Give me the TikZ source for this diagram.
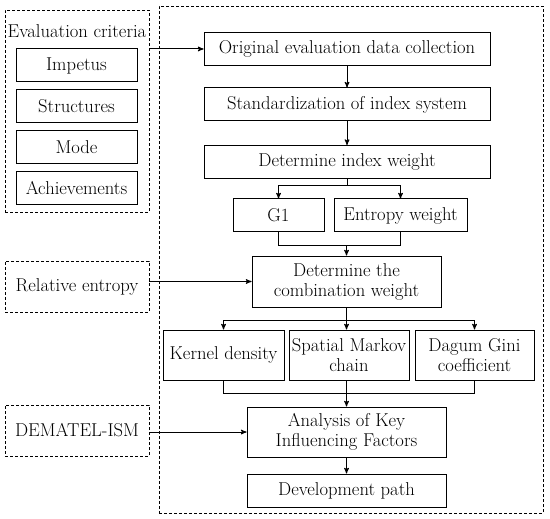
\documentclass[tikz,border=0pt]{standalone}
\usetikzlibrary{arrows}
\tikzset{
  box/.style={draw, line width=1pt, minimum height=33pt, inner sep=1pt, align=center},
  dbox/.style={draw, line width=0.9pt, dash pattern=on 3pt off 2pt, inner sep=0pt, align=center},
}
\begin{document}
\begin{tikzpicture}[x=1pt, y=-1pt, font=\fontsize{18.6}{20}\selectfont, >=stealth', line width=1pt]
\useasboundingbox (0,0) rectangle (550,519);
% dashed frames
\node[dbox, minimum width=144pt, minimum height=202pt] (crit) at (77,111) {};
\node[dbox, minimum width=384pt, minimum height=507pt] (frame) at (351,259.5) {};
\node[dbox, minimum width=144pt, minimum height=51pt] (rel) at (77,286.5) {Relative entropy};
\node[dbox, minimum width=144pt, minimum height=51pt] (dem) at (77,430.5) {DEMATEL-ISM};
\node (crittitle) at (77,31) {Evaluation criteria};
\foreach \y/\t [count=\i] in {65.5/Impetus, 106/Structures, 147/Mode, 188/Achievements}
  \node[box, minimum width=121pt] (c\i) at (76.5,\y) {\t};
% main flow
\node[box, minimum width=286pt] (orig) at (347,49) {Original evaluation data collection};
\node[box, minimum width=286pt] (std) at (347,104.5) {Standardization of index system};
\node[box, minimum width=286pt] (idx) at (347,162) {Determine index weight};
\node[box, minimum width=91pt] (g1) at (278.5,215.5) {G1};
\node[box, minimum width=133pt] (ent) at (400.5,215.5) {Entropy weight};
\node[box, minimum width=189pt, minimum height=51pt] (comb) at (346.5,281.5) {Determine the\\combination weight};
\node[box, minimum width=121pt, minimum height=50pt] (kd) at (223.5,355) {Kernel density};
\node[box, minimum width=120pt, minimum height=50pt] (smc) at (349,355) {Spatial Markov\\chain};
\node[box, minimum width=119pt, minimum height=50pt] (dg) at (474.5,355) {Dagum Gini\\coefficient};
\node[box, minimum width=199pt, minimum height=50pt] (key) at (346.5,432) {Analysis of Key\\Influencing Factors};
\node[box, minimum width=199pt] (dev) at (346.5,490.5) {Development path};
% connectors
\draw[->] (orig.west -| crit.east) -- (orig.west);
\draw[->] (orig) -- (std);
\draw[->] (std) -- (idx);
\draw[->] (idx.south) -- ++(0,7) -| (g1.north);
\draw[->] (idx.south) -- ++(0,7) -| (ent.north);
\draw (g1.south) -- ++(0,13) -| (ent.south);
\draw[<-] (comb.north) -- ++(0,-11);
\draw[->] (comb.west -| rel.east) -- (comb.west);
\draw[->] (comb.south) -- ++(0,13) -| (kd.north);
\draw[->] (comb.south) -- ++(0,13) -| (dg.north);
\draw[->] (comb.south) -- (comb.south |- smc.north);
\draw (kd.south) -- ++(0,13) -| (dg.south);
\draw[->] (key.north |- smc.south) -- (key.north);
\draw[->] (key.west -| dem.east) -- (key.west);
\draw[->] (key) -- (dev);
\end{tikzpicture}
\end{document}
